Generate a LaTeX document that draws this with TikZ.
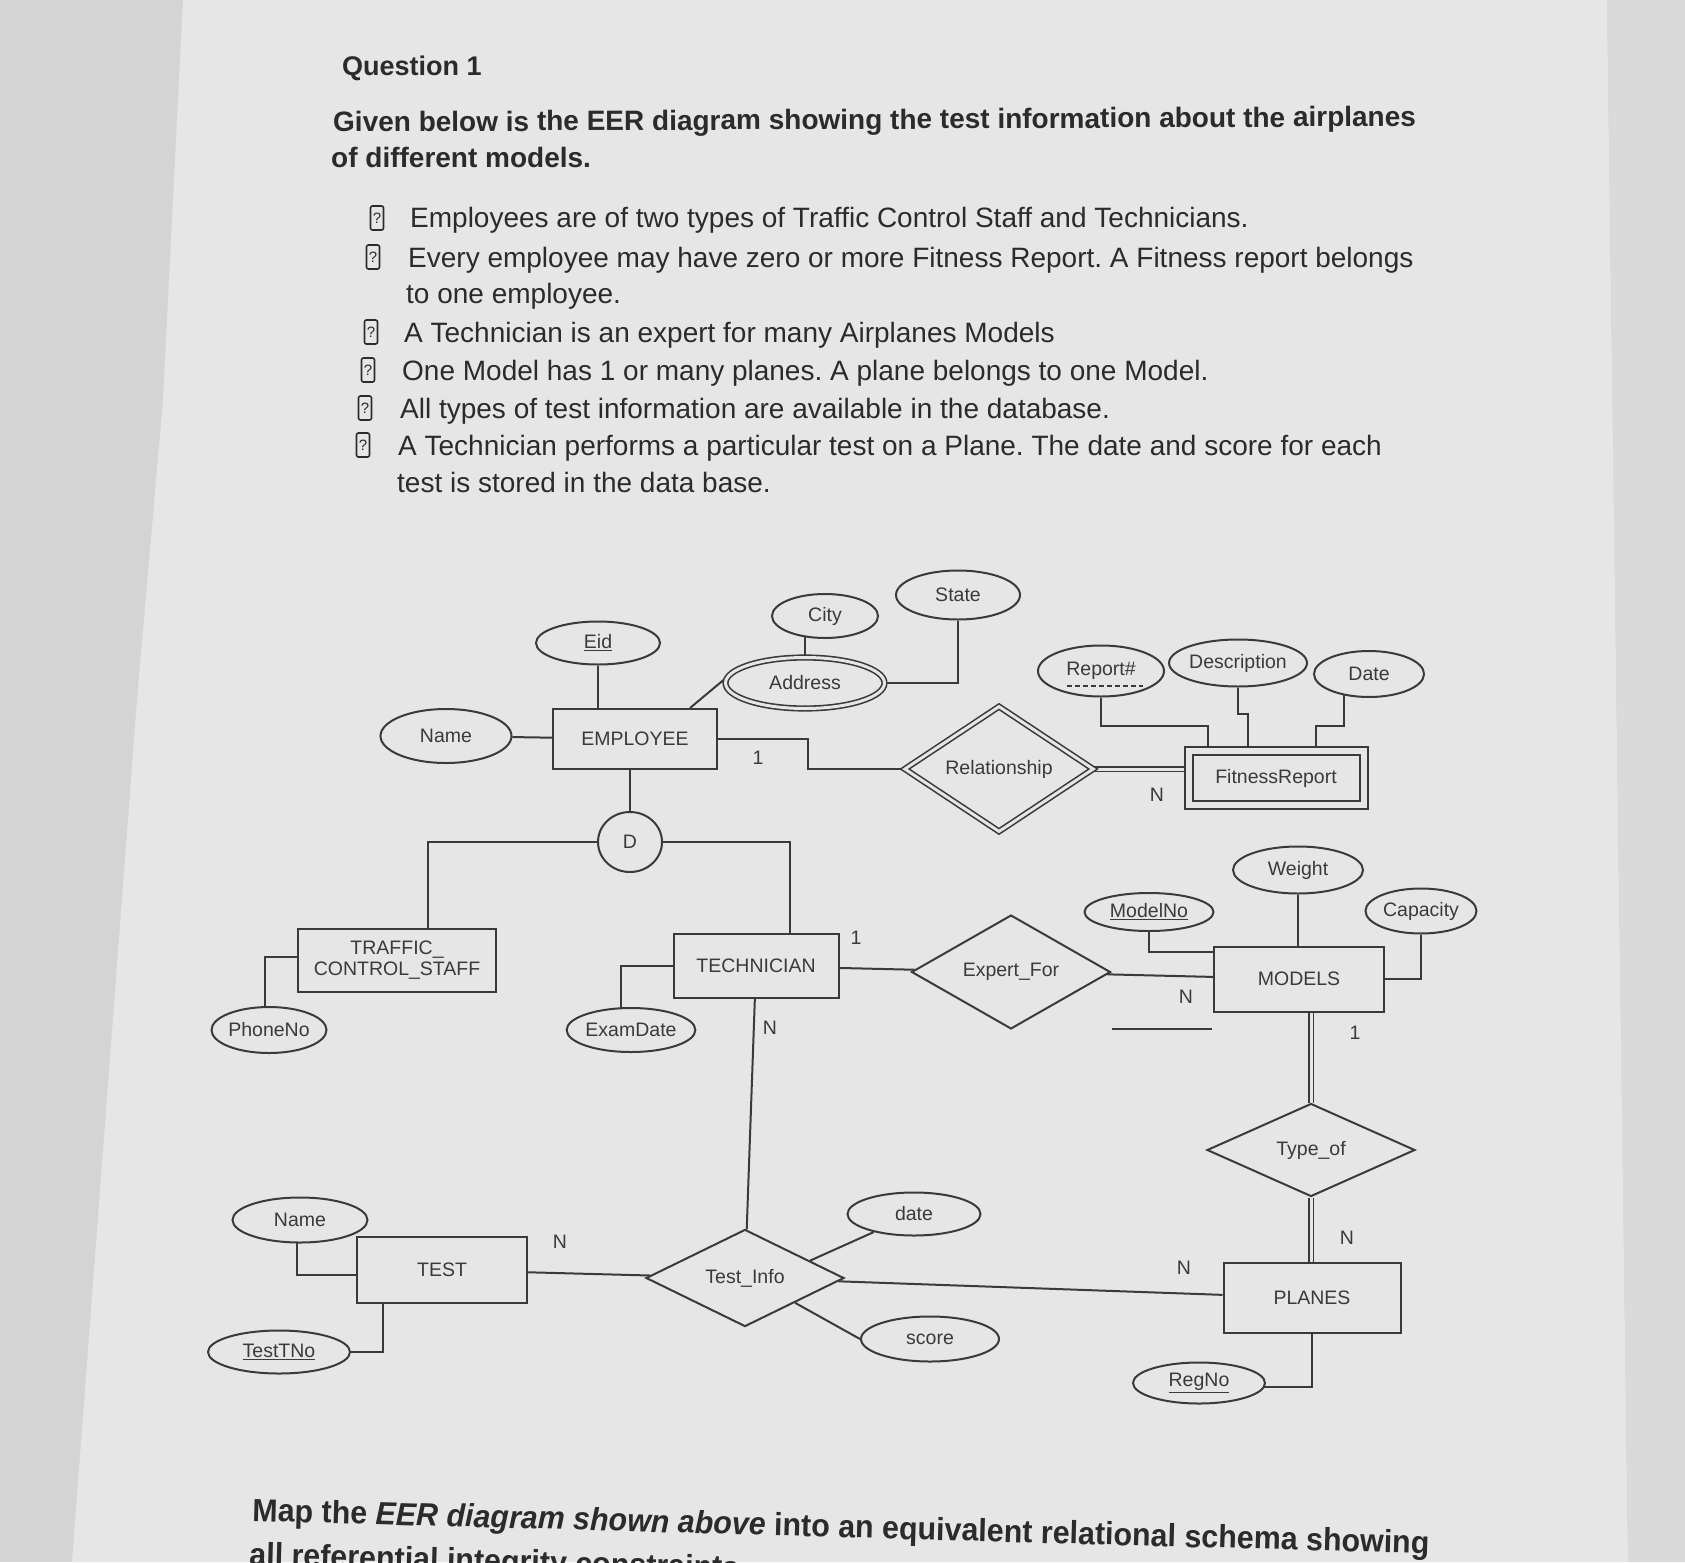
\documentclass[tikz,border=0pt]{standalone}
\usepackage{fontspec}
\usepackage{graphicx}
\setmainfont{Liberation Sans}
\usetikzlibrary{shapes.geometric,calc}
\pgfdeclarelayer{paper}
\pgfdeclarelayer{wires}
\pgfsetlayers{paper,wires,main}
\frenchspacing
\definecolor{pagecol}{HTML}{E6E6E6}
\definecolor{outcol}{HTML}{D4D4D4}
\definecolor{rightcol}{HTML}{DADADA}
\definecolor{ink}{HTML}{3A3A3A}
\definecolor{txt}{HTML}{2B2B2B}
\newcommand\dfnt{\fontsize{19.5}{20.5}\selectfont}
\newcommand\bfnt{\fontsize{28}{32}\selectfont}
\newcommand\hfnt{\fontsize{28}{32}\selectfont\bfseries}
\newcommand\qfnt{\fontsize{27}{32}\selectfont\bfseries}
\newcommand\mfnt{\fontsize{32}{36}\selectfont\bfseries}
\newcommand\qbfnt{\fontsize{15}{16}\selectfont}
\begin{document}
\begin{tikzpicture}[x=1pt,y=-1pt,
  ent/.style={draw=ink, rectangle, line width=2pt, fill=pagecol, inner sep=0pt, font=\dfnt, text=ink},
  attr/.style={draw=ink, ellipse, line width=2pt, fill=pagecol, inner sep=0pt, font=\dfnt, text=ink},
  rel/.style={draw=ink, diamond, line width=2pt, fill=pagecol, inner sep=0pt, font=\dfnt, text=ink},
  conn/.style={draw=ink, line width=2pt},
  dconn/.style={draw=ink, line width=1.6pt, double=pagecol, double distance=3pt},
  card/.style={font=\dfnt, text=ink, inner sep=0pt},
  body/.style={font=\bfnt, text=txt, anchor=base west, inner sep=0pt},
  head/.style={font=\hfnt, text=txt, anchor=base west, inner sep=0pt},
  qbox/.style={draw=txt, rounded corners=2pt, line width=1.6pt, minimum width=13pt, minimum height=24pt, inner sep=0pt, font=\qbfnt, text=txt}
]
\useasboundingbox (0,0) rectangle (1685,1562);
\begin{pgfonlayer}{paper}
\fill[outcol] (0,0) rectangle (1685,1562);
\fill[pagecol] (183,0) -- (1607,0) -- (1628,1562) -- (72,1562) -- (137,700) -- (163,400) -- cycle;
\fill[rightcol] (1607,0) -- (1685,0) -- (1685,1562) -- (1628,1562) -- cycle;
\end{pgfonlayer}

% ---------- header text ----------
\node[head, font=\qfnt] (t0) at (342,76) {Question 1};
\node[head, rotate=0.3] (t1) at (333,132) {Given below is the EER diagram showing the test information about the airplanes};
\node[head] (t2) at (331,168) {of different models.};

\node[qbox] (b1) at (377,218) {?};
\node[body] (l1) at (410,228) {Employees are of two types of Traffic Control Staff and Technicians.};
\node[qbox] (b2) at (373,257) {?};
\node[body] (l2) at (408,267) {Every employee may have zero or more Fitness Report. A Fitness report belongs};
\node[body] (l2b) at (406,303) {to one employee.};
\node[qbox] (b3) at (371,332) {?};
\node[body] (l3) at (404,342) {A Technician is an expert for many Airplanes Models};
\node[qbox] (b4) at (368,370) {?};
\node[body] (l4) at (402,380) {One Model has 1 or many planes. A plane belongs to one Model.};
\node[qbox] (b5) at (365,408) {?};
\node[body] (l5) at (400,418) {All types of test information are available in the database.};
\node[qbox] (b6) at (363,445) {?};
\node[body] (l6) at (398,455) {A Technician performs a particular test on a Plane. The date and score for each};
\node[body] (l6b) at (397,492) {test is stored in the data base.};

% ---------- diagram nodes ----------
\node[ent, minimum width=164pt, minimum height=60pt] (EMP) at (635,739) {EMPLOYEE};
\node[attr, minimum width=124pt, minimum height=43pt] (Eid) at (598,643) {\underline{Eid}};
\node[attr, minimum width=131pt, minimum height=54pt] (NameA) at (446,736) {Name};
\node[attr, double=pagecol, double distance=3pt, line width=1.6pt, minimum width=159pt, minimum height=51pt] (Addr) at (805,683) {Address};
\node[attr, minimum width=106pt, minimum height=44pt] (City) at (825,616) {City};
\node[attr, minimum width=124pt, minimum height=49pt] (State) at (958,595) {State};
\node[rel, double=pagecol, double distance=3pt, line width=1.6pt, minimum width=189pt, minimum height=82pt] (Rel) at (999,769) {Relationship};
\node[ent, double=pagecol, double distance=6pt, minimum width=175pt, minimum height=54pt] (FR) at (1276,778) {FitnessReport};
\node[attr, minimum width=126pt, minimum height=51pt] (Rep) at (1101,671) {Report\#};
\node[attr, minimum width=127pt, minimum height=47pt] (Desc) at (1238,663) {Description};
\node[attr, minimum width=110pt, minimum height=46pt] (Date) at (1369,674) {Date};
\node[attr, minimum width=64pt, minimum height=60pt] (D) at (630,842) {D};
\node[ent, minimum width=198pt, minimum height=63pt, align=center] (TCS) at (397,960) {TRAFFIC\_\\CONTROL\_STAFF};
\node[attr, minimum width=104pt, minimum height=46pt] (Phone) at (269,1030) {PhoneNo};
\node[ent, minimum width=165pt, minimum height=64pt] (TECH) at (756,966) {TECHNICIAN};
\node[attr, minimum width=108pt, minimum height=44pt] (Exam) at (631,1030) {ExamDate};
\node[rel, minimum width=199pt, minimum height=91pt] (Exp) at (1011,972) {Expert\_For};
\node[ent, minimum width=170pt, minimum height=65pt] (MOD) at (1299,979) {MODELS};
\node[attr, minimum width=129pt, minimum height=38pt] (Mno) at (1149,912) {\underline{ModelNo}};
\node[attr, minimum width=130pt, minimum height=47pt] (Wt) at (1298,870) {Weight};
\node[attr, minimum width=111pt, minimum height=45pt] (Cap) at (1421,911) {Capacity};
\node[rel, minimum width=208pt, minimum height=93pt] (Typ) at (1311,1150) {Type\_of};
\node[ent, minimum width=177pt, minimum height=70pt] (PL) at (1312,1298) {PLANES};
\node[attr, minimum width=132pt, minimum height=41pt] (Reg) at (1199,1383) {\underline{RegNo}};
\node[rel, minimum width=198pt, minimum height=94pt] (TI) at (745,1278) {Test\_Info};
\node[attr, minimum width=133pt, minimum height=43pt] (dt) at (914,1214) {date};
\node[attr, minimum width=138pt, minimum height=45pt] (sc) at (930,1339) {score};
\node[ent, minimum width=170pt, minimum height=66pt] (TEST) at (442,1270) {TEST};
\node[attr, minimum width=135pt, minimum height=45pt] (NameB) at (300,1220) {Name};
\node[attr, minimum width=142pt, minimum height=43pt] (TNo) at (279,1352) {\underline{TestTNo}};

\draw[ink, line width=1.3pt, dash pattern=on 5pt off 3pt] ($(Rep)+(-34,15)$) -- ($(Rep)+(42,15)$);

% cardinalities
\node[card] (c1) at (758,758) {1};
\node[card] (c2) at (1157,795) {N};
\node[card] (c3) at (856,938) {1};
\node[card] (c4) at (1186,997) {N};
\node[card] (c5) at (1355,1033) {1};
\node[card] (c6) at (1347,1238) {N};
\node[card] (c7) at (1184,1268) {N};
\node[card] (c8) at (770,1028) {N};
\node[card] (c9) at (560,1242) {N};

\coordinate (eb) at (808,755);
\coordinate (rb) at (1208,726);
\coordinate (db) at (1248,714);
\coordinate (tb) at (1316,726);
\coordinate (s1) at (1112,1029);
\coordinate (s2) at (1212,1029);

% ---------- connectors ----------
\begin{pgfonlayer}{wires}
\draw[conn] (Eid) -- (Eid |- EMP);
\draw[conn] (NameA) -- (EMP);
\draw[conn] ($(EMP.north east)+(-28,0)$) -- ($(Addr.west)+(0,-4)$);
\draw[conn] (Addr) -- (Addr |- City);
\draw[conn] (Addr) -| (State);
\draw[conn] (EMP) -- (EMP -| eb) -- (eb |- Rel) -- (Rel);
\draw[dconn] (Rel) -- (Rel -| FR);
\draw[conn] (Rep) |- (rb) -- (rb |- FR);
\draw[conn] (Desc) |- (db) -- (db |- FR);
\draw[conn] ($(Date)+(-25,0)$) |- (tb) -- (tb |- FR);
\draw[conn] (D) -- (D |- EMP);
\draw[conn] (D) -| ($(TCS)+(31,0)$);
\draw[conn] (D) -| ($(TECH)+(34,0)$);
\draw[conn] ($(Phone)+(-4,0)$) |- ($(TCS)+(0,-3)$);
\draw[conn] ($(Exam)+(-10,0)$) |- (TECH);
\draw[conn] (TECH) -- (Exp);
\draw[conn] (Exp) -- (MOD);
\draw[conn, line width=1.4pt] (s1) -- (s2);
\draw[conn] (Mno) |- ($(MOD)+(0,-27)$);
\draw[conn] (Wt) -- (Wt |- MOD);
\draw[conn] (Cap) |- (MOD);
\draw[dconn] (Typ) -- (Typ |- MOD);
\draw[dconn] (Typ) -- (Typ |- PL);
\draw[conn] ($(Reg)+(0,4)$) -| (PL);
\draw[conn] (TECH) -- (TI);
\draw[conn] (TEST) -- (TI);
\draw[conn] (TI) -- (PL);
\draw[conn] ($(TI.north east)!0.3!(TI.east)$) -- (dt);
\draw[conn] (TI.south east) -- (sc.west);
\draw[conn] ($(NameB)+(-3,0)$) |- ($(TEST)+(0,5)$);
\draw[conn] (TNo) -| ($(TEST)+(-59,0)$);
\end{pgfonlayer}

% ---------- bottom text ----------
\node[head, font=\mfnt, rotate=-1.6] (m1) at (252,1521) {\scalebox{0.95}[1]{Map the \textit{EER diagram shown above} into an equivalent relational schema showing}};
\node[head, font=\mfnt, rotate=-1.6] (m2) at (249,1565) {\scalebox{0.95}[1]{all referential integrity constraints}};
\end{tikzpicture}
\end{document}
